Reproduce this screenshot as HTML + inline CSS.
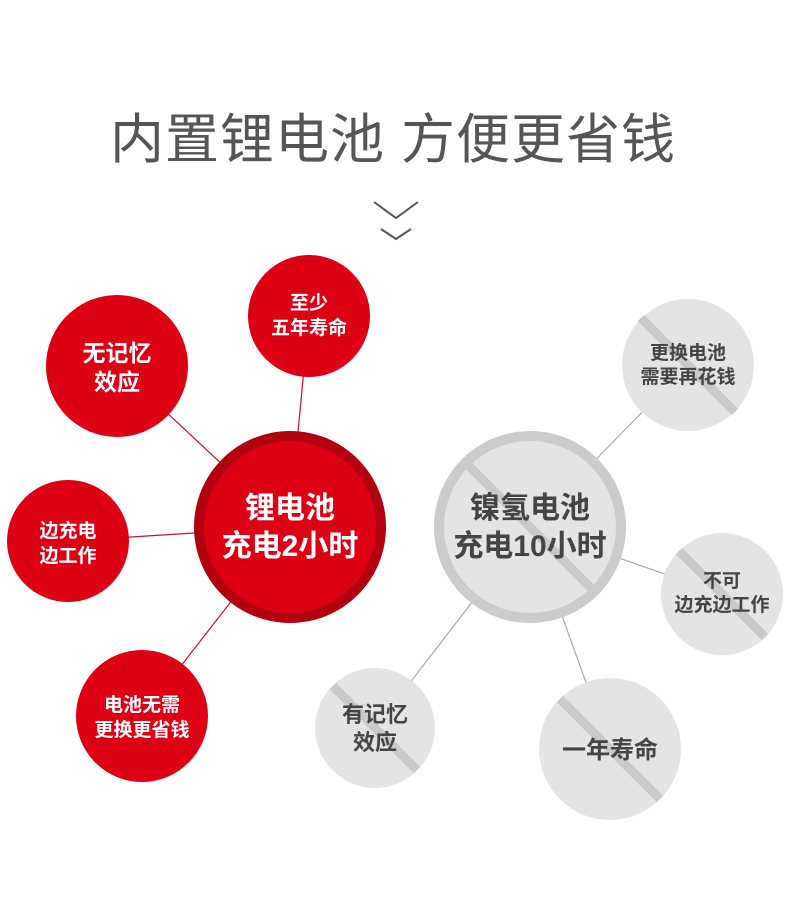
<!DOCTYPE html>
<html><head><meta charset="utf-8"><style>
html,body{margin:0;padding:0;background:#fff;}
svg{display:block;}
text{font-family:"Liberation Sans","Noto Sans CJK SC",sans-serif;font-weight:bold;text-anchor:middle;}
</style></head><body>
<svg width="790" height="900" viewBox="0 0 790 900">
<text x="393" y="158" style="font-size:54px;font-weight:normal;fill:#555;letter-spacing:1px;">内置锂电池 方便更省钱</text>
<polyline points="374,202 396,218 418,202" fill="none" stroke="#555" stroke-width="2"/>
<polyline points="381,229 396,239 411,229" fill="none" stroke="#555" stroke-width="2"/>
<g stroke="#c8102e" stroke-width="1.2">
<line x1="309" y1="316" x2="289" y2="527"/>
<line x1="117" y1="366" x2="289" y2="527"/>
<line x1="68" y1="541" x2="289" y2="527"/>
<line x1="142" y1="716" x2="289" y2="527"/>
</g>
<g stroke="#aaa" stroke-width="1.2">
<line x1="688" y1="365" x2="530" y2="527"/>
<line x1="722" y1="594" x2="530" y2="527"/>
<line x1="610" y1="749" x2="530" y2="527"/>
<line x1="375" y1="728" x2="530" y2="527"/>
</g>
<g fill="#dd0015">
<circle cx="309" cy="316" r="61"/>
<circle cx="117" cy="366" r="71"/>
<circle cx="68" cy="541" r="61"/>
<circle cx="142" cy="716" r="66"/>
</g>
<circle cx="290" cy="527" r="96" fill="#b3000f"/>
<circle cx="290" cy="527" r="86" fill="#dd0015"/>
<g fill="#fff">
<text x="309" y="309" style="font-size:19px">至少</text>
<text x="309" y="334" style="font-size:19px">五年寿命</text>
<text x="117" y="361" style="font-size:23px">无记忆</text>
<text x="117" y="390" style="font-size:23px">效应</text>
<text x="68" y="537" style="font-size:19px">边充电</text>
<text x="68" y="562" style="font-size:19px">边工作</text>
<text x="142" y="711" style="font-size:19px">电池无需</text>
<text x="142" y="736" style="font-size:19px">更换更省钱</text>
<text x="290" y="518" style="font-size:30px">锂电池</text>
<text x="290" y="556" style="font-size:30px">充电2小时</text>
</g>
<g fill="#e4e4e4">
<circle cx="688" cy="365" r="66"/>
<circle cx="722" cy="594" r="61"/>
<circle cx="610" cy="749" r="71"/>
<circle cx="375" cy="728" r="60"/>
</g>
<circle cx="530" cy="527" r="96" fill="#cbcbcb"/>
<circle cx="530" cy="527" r="86" fill="#e4e4e4"/>
<g stroke="#c9c9c9" stroke-width="9">
<line x1="469" y1="466" x2="591" y2="588"/>
<line x1="641" y1="318" x2="735" y2="412"/>
<line x1="679" y1="551" x2="765" y2="637"/>
<line x1="560" y1="699" x2="660" y2="799"/>
<line x1="333" y1="686" x2="417" y2="770"/>
</g>
<g fill="#444">
<text x="688" y="359" style="font-size:19px">更换电池</text>
<text x="688" y="383" style="font-size:19px">需要再花钱</text>
<text x="722" y="587" style="font-size:19px">不可</text>
<text x="722" y="611" style="font-size:19px">边充边工作</text>
<text x="610" y="758" style="font-size:24px">一年寿命</text>
<text x="375" y="722" style="font-size:22px">有记忆</text>
<text x="375" y="750" style="font-size:22px">效应</text>
<text x="530" y="518" style="font-size:30px">镍氢电池</text>
<text x="530" y="556" style="font-size:30px">充电10小时</text>
</g>
</svg>
</body></html>
